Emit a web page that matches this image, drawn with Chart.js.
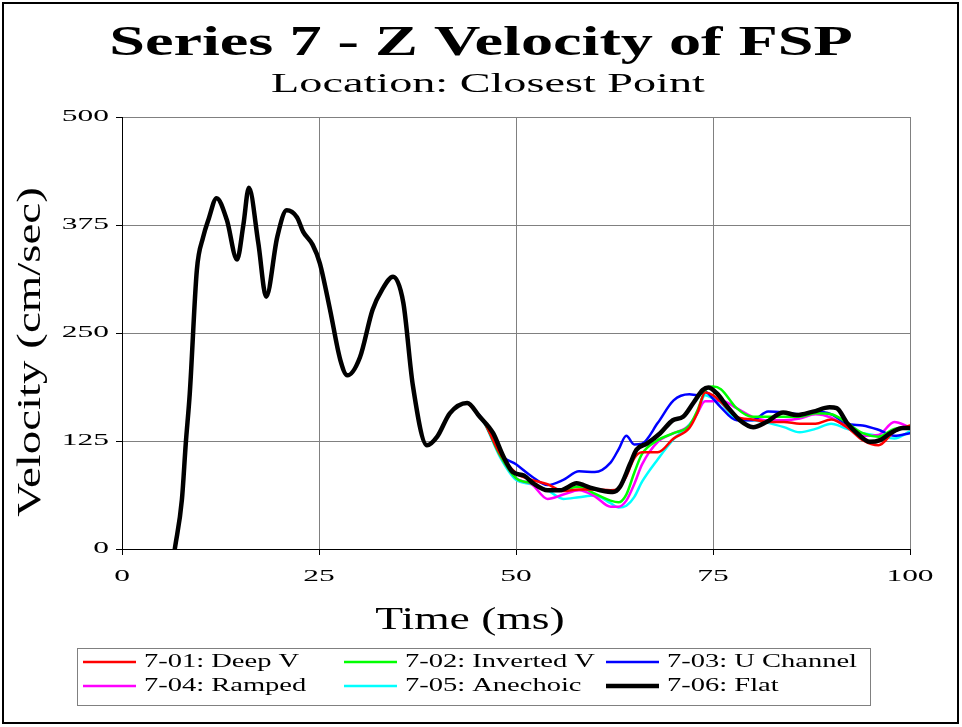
<!DOCTYPE html>
<html>
<head>
<meta charset="utf-8">
<title>Series 7 - Z Velocity of FSP</title>
<script src="https://cdn.jsdelivr.net/npm/chart.js@4.4.1/dist/chart.umd.min.js"></script>
<style>
  html, body { margin: 0; padding: 0; background: #fff; }
  canvas { display: block; }
</style>
</head>
<body>
<canvas id="velocityChart" width="962" height="727"></canvas>
<script>
/* ── Series 7 – Z Velocity of FSP (closest point) ─────────── */

const timeTicks     = [0, 25, 50, 75, 100];
const velocityTicks = [0, 125, 250, 375, 500];

// 7-06 Flat: the full trace (the others sit under it until ~44 ms)
const flatTime = [6.7, 7.6, 8.1, 8.6, 9.5, 10.3, 11.0, 12.0, 13.3, 14.6, 15.4, 16.1, 17.3, 18.3, 19.7,
                  20.9, 22.2, 23.0, 24.2, 25.1, 26.4, 27.7, 28.6, 30.2, 31.8, 33.0, 34.4, 35.7, 36.9, 38.7,
                  40.0, 41.6, 43.8, 45.4, 47.1, 48.4, 49.6, 51.0, 52.2, 54.0, 55.6, 57.7, 59.4, 60.7, 62.3,
                  63.2, 64.5, 65.3, 66.6, 68.3, 69.9, 71.2, 72.5, 73.7, 74.4, 75.5, 76.8, 78.4, 80.1, 81.8,
                  83.9, 85.6, 87.7, 89.8, 90.7, 92.0, 93.3, 94.9, 96.2, 97.5, 99.1, 100];
const flat     = [0, 57, 123, 180, 323, 361, 382, 406, 381, 335, 375, 418, 354, 292, 361,
                  392, 384, 367, 352, 331, 277, 219, 201, 222, 277, 300, 315, 285, 190, 120,
                  130, 157, 169, 153, 134, 107, 89, 85, 76, 68, 68, 76, 71, 68, 66,
                  72, 99, 115, 122, 134, 149, 153, 169, 184, 187, 180, 165, 149, 141, 147,
                  158, 155, 159, 164, 163, 146, 134, 124, 126, 134, 140, 140];

// 7-01 .. 7-05 after they split from the flat trace
const tailTime   = [44, 46, 48, 50, 52, 54, 56, 58, 60, 62, 63, 64, 65, 66, 68, 70, 72,
                    73, 74, 75, 76, 78, 80, 82, 84, 86, 88, 90, 92, 94, 96, 98, 100];
const deepV      = [168, 146, 110, 88, 80, 75, 67, 69, 69, 68, 70, 84, 105, 112, 112, 128, 140,
                    157, 181, 178, 170, 153, 150, 147, 147, 145, 145, 150, 141, 126, 120, 136, 143];
const invertedV  = [168, 146, 108, 82, 76, 68, 69, 72, 64, 56, 54, 63, 88, 110, 126, 134, 143,
                    160, 183, 188, 185, 163, 153, 153, 153, 153, 157, 156, 146, 134, 130, 139, 141];
const uChannel   = [168, 147, 110, 98, 84, 74, 80, 90, 89, 100, 115, 131, 121, 122, 146, 172, 179,
                    178, 182, 174, 164, 149, 149, 159, 158, 156, 159, 156, 145, 143, 138, 131, 134];
const ramped     = [168, 146, 108, 82, 75, 58, 63, 68, 61, 49, 49, 56, 75, 98, 124, 134, 143,
                    157, 171, 171, 172, 163, 153, 149, 149, 151, 156, 152, 141, 131, 132, 147, 141];
const anechoic   = [168, 145, 106, 80, 75, 68, 58, 60, 62, 53, 48, 50, 60, 78, 104, 127, 144,
                    157, 178, 174, 169, 150, 149, 146, 141, 135, 139, 145, 139, 134, 131, 128, 136];

const seriesConfig = [
  {label:"7-01: Deep V",     time:tailTime, values:deepV,     color:"#ff0000", width:2.5},
  {label:"7-02: Inverted V", time:tailTime, values:invertedV, color:"#00ff00", width:2.5},
  {label:"7-03: U Channel",  time:tailTime, values:uChannel,  color:"#0000ff", width:2.5},
  {label:"7-04: Ramped",     time:tailTime, values:ramped,    color:"#ff00ff", width:2.5},
  {label:"7-05: Anechoic",   time:tailTime, values:anechoic,  color:"#00ffff", width:2.5},
  {label:"7-06: Flat",       time:flatTime, values:flat,      color:"#000000", width:4.5}
];

const SERIF = '"Liberation Serif", "Times New Roman", serif';

// the original's type is drawn wide, so stretch it along the baseline
function wideText(ctx, str, x, y, o) {
  ctx.save();
  ctx.translate(x, y);
  if (o.rotate) ctx.rotate(o.rotate);
  ctx.scale(o.sx || 1.5, 1);
  ctx.font = o.font;
  ctx.fillStyle = "#000";
  ctx.textAlign = o.align || "center";
  ctx.textBaseline = o.base || "alphabetic";
  ctx.fillText(str, 0, 0);
  ctx.restore();
}

const textLayer = {
  id: "textLayer",
  afterDraw(chart) {
    const { ctx, scales: { x, y } } = chart;
    wideText(ctx, "Series 7 - Z Velocity of FSP", 481, 55, { font:`bold 42px ${SERIF}`, sx:1.53 });
    wideText(ctx, "Location: Closest Point", 488, 92, { font:`28px ${SERIF}`, sx:1.65 });
    wideText(ctx, "Time (ms)", 470, 629, { font:`31px ${SERIF}`, sx:1.47 });
    wideText(ctx, "Velocity (cm/sec)", 40, 352, { font:`34px ${SERIF}`, sx:1.38, rotate:-Math.PI / 2 });
    x.ticks.forEach(t => wideText(ctx, String(t.value), x.getPixelForValue(t.value), 577,
      { font:`17px ${SERIF}`, sx:1.85, base:"middle" }));
    y.ticks.forEach(t => wideText(ctx, String(t.value), 109, y.getPixelForValue(t.value),
      { font:`17px ${SERIF}`, sx:1.85, align:"right", base:"middle" }));

    // outer frame
    ctx.save();
    ctx.strokeStyle = "#000";
    ctx.lineWidth = 2;
    ctx.strokeRect(3, 3, 955, 720);
    ctx.restore();
  }
};

const boxLegend = {
  id: "boxLegend",
  afterDraw(chart) {
    const { ctx } = chart;
    const colX = [83, 344, 606], rowY = [662, 686];
    ctx.save();
    ctx.strokeStyle = "#808080";
    ctx.lineWidth = 1;
    ctx.strokeRect(77.5, 648.5, 793, 57);
    chart.data.datasets.forEach((ds, i) => {
      const lx = colX[i % 3], ly = rowY[Math.floor(i / 3)];
      ctx.strokeStyle = ds.borderColor;
      ctx.lineWidth = ds.borderWidth;
      ctx.beginPath();
      ctx.moveTo(lx, ly);
      ctx.lineTo(lx + 53, ly);
      ctx.stroke();
      wideText(ctx, ds.label, lx + 61, ly, { font:`19px ${SERIF}`, sx:1.5, align:"left", base:"middle" });
    });
    ctx.restore();
  }
};

new Chart(document.getElementById("velocityChart").getContext("2d"), {
  type: "line",
  data: {
    datasets: seriesConfig.map((s, i) => ({
      label: s.label,
      data: s.time.map((t, k) => ({ x: t, y: s.values[k] })),
      borderColor: s.color,
      backgroundColor: s.color,
      borderWidth: s.width,
      order: s.color === "#000000" ? 0 : i + 1,
      fill: false
    }))
  },
  options: {
    responsive: false,
    animation: false,
    devicePixelRatio: 1,
    layout: { padding: { top: 117, right: 52, left: 0, bottom: 0 } },
    elements: {
      point: { radius: 0, hoverRadius: 3 },
      line:  { cubicInterpolationMode: "monotone", borderCapStyle: "round", borderJoinStyle: "round" }
    },
    interaction: { mode: "nearest", intersect: false },
    plugins: {
      legend: { display: false },
      title:  { display: false },
      tooltip: { callbacks: { label: c => ` ${c.dataset.label}: ${c.parsed.y} cm/sec` } }
    },
    scales: {
      x: {
        type: "linear", min: 0, max: 100,
        afterBuildTicks: s => { s.ticks = timeTicks.map(v => ({ value: v })); },
        afterFit: s => { s.height = 178; },
        ticks: { display: false },
        grid:  { color: "#808080", lineWidth: 1, tickColor: "#000", tickLength: 6 },
        border: { color: "#000", width: 1 }
      },
      y: {
        min: 0, max: 500,
        afterBuildTicks: s => { s.ticks = velocityTicks.map(v => ({ value: v })); },
        afterFit: s => { s.width = 122; },
        ticks: { display: false },
        grid:  { color: "#808080", lineWidth: 1, tickColor: "#000", tickLength: 6 },
        border: { color: "#000", width: 1 }
      }
    }
  },
  plugins: [textLayer, boxLegend]
});
</script>
</body>
</html>
